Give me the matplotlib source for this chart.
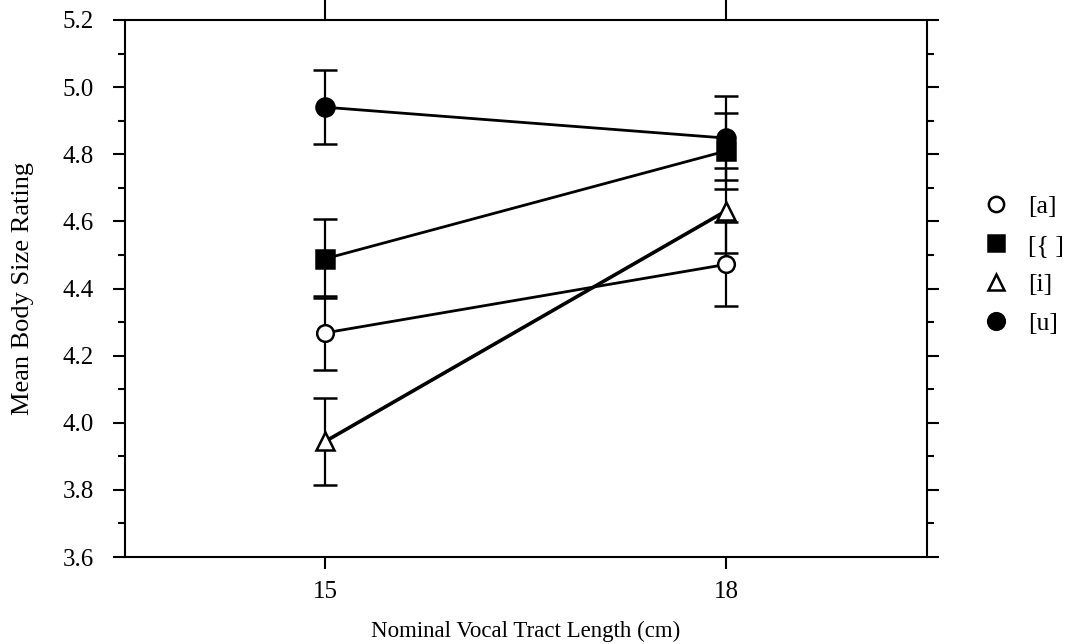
import matplotlib
matplotlib.use("Agg")
import matplotlib.pyplot as plt
from matplotlib.lines import Line2D
from matplotlib.ticker import MultipleLocator, FormatStrFormatter

# ------------------ DATA ------------------
vtl = [15, 18]
vowels = ["[a]", "[{ ]", "[i]", "[u]"]

mean_a = [4.268, 4.472]
mean_ae = [4.489, 4.810]
mean_i = [3.945, 4.632]
mean_u = [4.940, 4.848]

err_a = [0.110, 0.125]
err_ae = [0.118, 0.113]
err_i = [0.130, 0.127]
err_u = [0.110, 0.125]

# ------------------ STYLE ------------------
plt.rcParams["font.family"] = ["Liberation Serif", "DejaVu Serif"]
plt.rcParams["axes.linewidth"] = 1.5

styles = [
    dict(marker="o", mfc="white", ms=12, lw=2.0),
    dict(marker="s", mfc="black", ms=12.5, lw=2.0),
    dict(marker="^", mfc="white", ms=12.5, lw=2.6),
    dict(marker="o", mfc="black", ms=13, lw=2.0),
]
means = [mean_a, mean_ae, mean_i, mean_u]
errs = [err_a, err_ae, err_i, err_u]

fig = plt.figure(figsize=(10.71, 6.44), dpi=100)
ax = fig.add_axes([0.1167, 0.135, 0.7488, 0.834])

for m, e, st in zip(means, errs, styles):
    ax.errorbar(vtl, m, yerr=e, color="black", marker=st["marker"],
                mfc=st["mfc"], mec="black", mew=1.8, ms=st["ms"],
                lw=st["lw"], elinewidth=1.6, capsize=8.5, capthick=1.6,
                zorder=3)

ax.set_xlim(13.5, 19.5)
ax.set_ylim(3.6, 5.2)
ax.set_xticks(vtl)
ax.yaxis.set_major_locator(MultipleLocator(0.2))
ax.yaxis.set_minor_locator(MultipleLocator(0.1))
ax.yaxis.set_major_formatter(FormatStrFormatter("%.1f"))

ax.tick_params(axis="y", which="major", direction="out", length=8.5,
               width=1.5, left=True, right=True, labelsize=18, pad=14)
ax.tick_params(axis="y", which="minor", direction="out", length=5,
               width=1.5, left=True, right=True)
ax.tick_params(axis="x", which="major", direction="out", length=8.5,
               width=1.5, bottom=True, top=False, labelsize=18, pad=9)
# long ticks sticking out of the top frame
for xv in vtl:
    ax.plot([xv, xv], [1.0, 1.045], color="black", lw=1.5,
            transform=ax.get_xaxis_transform(), clip_on=False)

ax.set_xlabel("Nominal Vocal Tract Length (cm)", fontsize=16.5)
ax.set_ylabel("Mean Body Size Rating", fontsize=19)
ax.xaxis.set_label_coords(0.5, -0.118)
ax.yaxis.set_label_coords(-0.114, 0.5)

handles = [Line2D([], [], color="black", linestyle="none", marker=st["marker"],
                  mfc=st["mfc"], mec="black", mew=1.8, ms=st["ms"] - 1)
           for st in styles]
fig.legend(handles, vowels, loc="center left", bbox_to_anchor=(0.906, 0.588),
           frameon=False, fontsize=18.5, handletextpad=0.75, labelspacing=0.62,
           handlelength=1.0, borderpad=0)

fig.savefig("out.png", dpi=100)
